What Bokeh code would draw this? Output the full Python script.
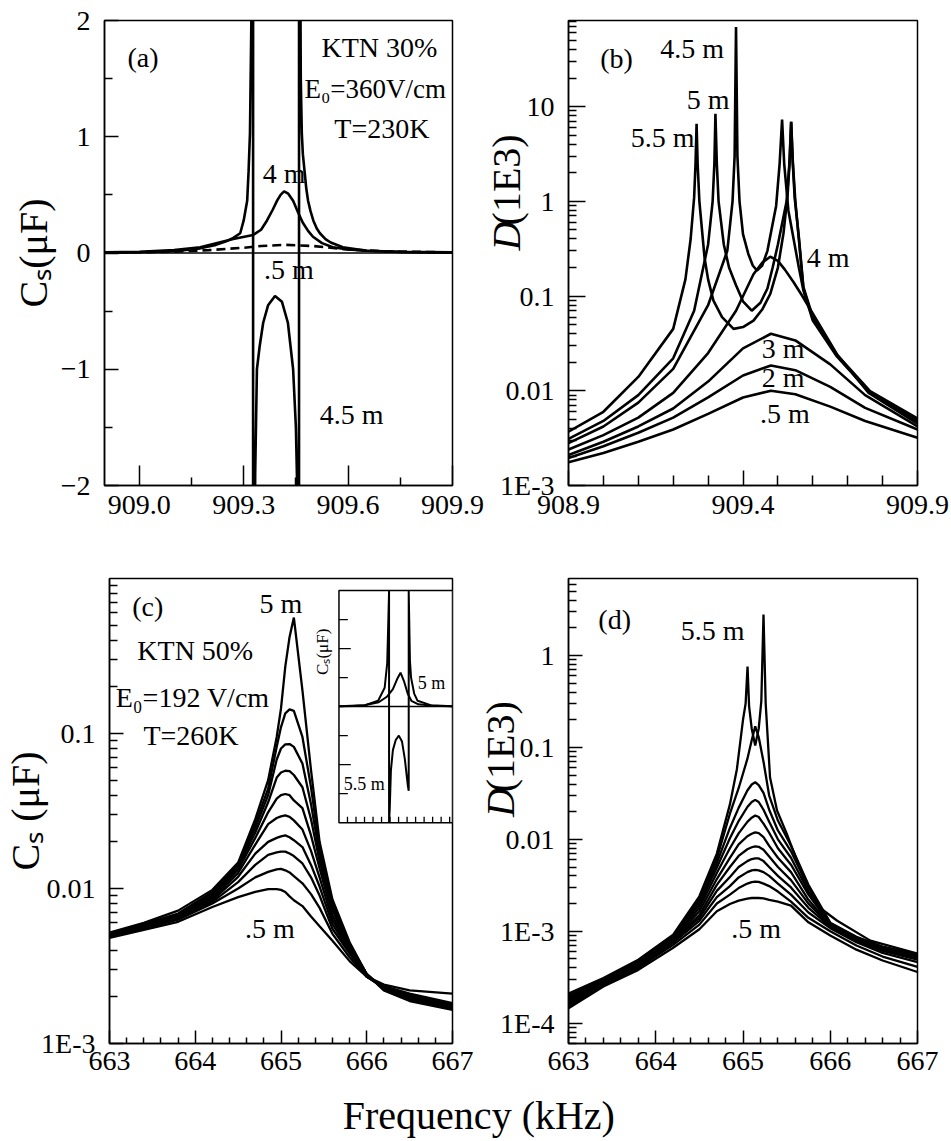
import math
from bokeh.plotting import figure
from bokeh.layouts import column, row
from bokeh.models import Range1d, FixedTicker, Label, Span, PrintfTickFormatter, LinearScale
from bokeh.embed import file_html
from bokeh.resources import INLINE
from bokeh.core.properties import value

FONT = "Liberation Serif"
LW = 2.6

# ---------------- panel (a): Cs (uF), KTN 30%, linear ----------------
A_X_45 = [908.90, 909.00, 909.10, 909.175, 909.22, 909.25, 909.27, 909.29, 909.30, 909.31,
          909.314, 909.318, 909.322, 909.327,
          909.327, 909.333, 909.338, 909.346, 909.356, 909.37, 909.39, 909.41, 909.427, 909.442,
          909.45, 909.455, 909.459,
          909.459, 909.464, 909.467, 909.47, 909.475, 909.48, 909.485, 909.492, 909.50, 909.51,
          909.519, 909.535, 909.55, 909.585, 909.654, 909.75, 909.90]
A_Y_45 = [0.003, 0.006, 0.015, 0.04, 0.07, 0.10, 0.13, 0.17, 0.28, 0.45,
          0.7, 1.03, 2.0, 5.0,
          -5.0, -1.9, -1.0, -0.8, -0.6, -0.45, -0.37, -0.42, -0.6, -1.0,
          -1.5, -2.2, -5.0,
          5.0, 1.5, 1.03, 0.85, 0.7, 0.55, 0.45, 0.36, 0.28, 0.21,
          0.17, 0.12, 0.09, 0.05, 0.02, 0.008, 0.003]
A_X_4 = [908.90, 909.00, 909.10, 909.175, 909.27, 909.327, 909.35, 909.367, 909.383, 909.396,
         909.406, 909.416, 909.428, 909.442, 909.456, 909.47, 909.485, 909.499, 909.525, 909.556,
         909.60, 909.654, 909.75, 909.90]
A_Y_4 = [0.005, 0.01, 0.025, 0.05, 0.12, 0.155, 0.2, 0.28, 0.37, 0.45,
         0.5, 0.53, 0.51, 0.45, 0.35, 0.26, 0.19, 0.14, 0.085, 0.05,
         0.03, 0.02, 0.01, 0.005]
A_X_05 = [908.90, 909.00, 909.10, 909.20, 909.30, 909.35, 909.42, 909.50, 909.55, 909.60, 909.70, 909.90]
A_Y_05 = [0.003, 0.006, 0.012, 0.025, 0.045, 0.06, 0.07, 0.06, 0.045, 0.03, 0.015, 0.005]
A_XTICKS = [909.0, 909.3, 909.6, 909.9]
A_XMINOR = [909.15, 909.45, 909.75]
A_YTICKS = [-2, -1, 0, 1, 2]
A_YMINOR = [-1.5, -0.5, 0.5, 1.5]

# ---------------- panel (b): D (1E3), KTN 30%, log ----------------
B_X_SMOOTH = [908.9, 909.0, 909.1, 909.2, 909.3, 909.4, 909.48, 909.55, 909.65, 909.75, 909.9]
B_Y_05 = [0.00176, 0.0022, 0.0029, 0.0039, 0.0057, 0.0085, 0.0100, 0.0092, 0.0068, 0.0048, 0.0032]
B_Y_2 = [0.00195, 0.0026, 0.0036, 0.0052, 0.0085, 0.0145, 0.0185, 0.0165, 0.011, 0.0066, 0.0039]
B_Y_3 = [0.0021, 0.0029, 0.0042, 0.0065, 0.0125, 0.028, 0.040, 0.034, 0.019, 0.0090, 0.0042]
B_X_4 = [908.9, 909.0, 909.1, 909.2, 909.3, 909.38, 909.43, 909.455, 909.478, 909.50, 909.52,
         909.545, 909.57, 909.67, 909.76, 909.9]
B_Y_4 = [0.0024, 0.0034, 0.0052, 0.0095, 0.025, 0.07, 0.17, 0.225, 0.26, 0.235, 0.19,
         0.14, 0.10, 0.024, 0.0095, 0.0045]
B_X_45 = [908.9, 909.0, 909.1, 909.2, 909.3, 909.355, 909.37, 909.376, 909.38, 909.384,
          909.39, 909.40, 909.415, 909.428, 909.44, 909.455, 909.47, 909.495, 909.505, 909.512,
          909.518, 909.53, 909.56, 909.573, 909.6, 909.669, 909.764, 909.9]
B_Y_45 = [0.0028, 0.0042, 0.0075, 0.017, 0.08, 0.3, 1.0, 3.0, 69, 3.0,
          1.0, 0.45, 0.28, 0.21, 0.186, 0.21, 0.3, 0.9, 2.5, 7.3,
          2.5, 0.8, 0.2, 0.115, 0.055, 0.023, 0.0095, 0.0047]
B_X_5 = [908.9, 909.0, 909.1, 909.2, 909.26, 909.30, 909.313, 909.318, 909.321, 909.325,
         909.33, 909.345, 909.36, 909.38, 909.40, 909.425, 909.45, 909.47, 909.485, 909.50,
         909.525, 909.533, 909.538, 909.543, 909.55, 909.56, 909.573, 909.6, 909.669, 909.764,
         909.9]
B_Y_5 = [0.0031, 0.0048, 0.009, 0.022, 0.07, 0.35, 1.0, 2.5, 8.4, 2.5,
         1.0, 0.35, 0.2, 0.13, 0.088, 0.07, 0.085, 0.12, 0.2, 0.35,
         1.0, 2.5, 6.9, 2.5, 1.0, 0.4, 0.12, 0.058, 0.0235, 0.0097,
         0.0049]
B_X_55 = [908.9, 909.0, 909.1, 909.2, 909.235, 909.25, 909.26, 909.264, 909.267, 909.27,
          909.275, 909.29, 909.30, 909.315, 909.34, 909.373, 909.40, 909.43, 909.455, 909.478,
          909.50, 909.516, 909.528, 909.534, 909.538, 909.542, 909.548, 909.56, 909.573, 909.6,
          909.669, 909.764, 909.9]
B_Y_55 = [0.0037, 0.006, 0.014, 0.045, 0.15, 0.4, 1.1, 2.5, 6.6, 2.5,
          1.0, 0.25, 0.15, 0.09, 0.06, 0.045, 0.047, 0.055, 0.072, 0.105,
          0.2, 0.46, 1.2, 2.8, 6.9, 2.8, 1.1, 0.42, 0.125, 0.06,
          0.024, 0.0099, 0.0051]
B_XTICKS = [908.9, 909.4, 909.9]
B_XMINOR = [909.0, 909.1, 909.2, 909.3, 909.5, 909.6, 909.7, 909.8]
B_YTICKS = [1e-3, 1e-2, 1e-1, 1.0, 10.0]

# ---------------- panel (c): Cs (uF), KTN 50%, log ----------------
C_X = [663.0, 663.4, 663.8, 664.2, 664.5, 664.7, 664.85, 664.95, 665.0, 665.05, 665.1,
       665.15, 665.25, 665.35, 665.45, 665.6, 665.8, 666.0, 666.2, 666.5, 667.0]
C_05 = [0.0048, 0.0054, 0.0061, 0.0076, 0.0088, 0.0095, 0.0099, 0.0099, 0.0098, 0.0095, 0.0089,
        0.0084, 0.0077, 0.0066, 0.0057, 0.0046, 0.0034, 0.0027, 0.0024, 0.0022, 0.0021]
C_10 = [0.00485, 0.0055, 0.0063, 0.0080, 0.0100, 0.0118, 0.0128, 0.0133, 0.0134, 0.0131, 0.0127,
        0.0120, 0.0108, 0.0092, 0.0075, 0.0051, 0.0036, 0.0027, 0.00235, 0.0021, 0.00182]
C_15 = [0.0049, 0.0056, 0.0064, 0.0082, 0.0110, 0.0142, 0.0165, 0.0171, 0.0173, 0.0173, 0.0168,
        0.0162, 0.0145, 0.0118, 0.0090, 0.0055, 0.0038, 0.0027, 0.0023, 0.00205, 0.00178]
C_20 = [0.0049, 0.0056, 0.0065, 0.0084, 0.0119, 0.0168, 0.0200, 0.0212, 0.0217, 0.0220, 0.0214,
        0.0205, 0.0185, 0.0142, 0.0103, 0.0059, 0.0039, 0.0027, 0.0023, 0.0020, 0.00175]
C_25 = [0.0050, 0.0057, 0.0065, 0.0086, 0.0126, 0.0192, 0.0260, 0.0285, 0.0292, 0.0296, 0.0290,
        0.0275, 0.0240, 0.0175, 0.0118, 0.0063, 0.0040, 0.0027, 0.0023, 0.00198, 0.00173]
C_30 = [0.0050, 0.0057, 0.0066, 0.0088, 0.0132, 0.0212, 0.0310, 0.0380, 0.0400, 0.0407, 0.0400,
        0.0370, 0.0330, 0.0220, 0.0135, 0.0067, 0.0041, 0.0027, 0.00228, 0.00196, 0.0017]
C_35 = [0.0050, 0.0058, 0.0067, 0.0090, 0.0137, 0.0230, 0.0360, 0.0520, 0.0560, 0.0575, 0.0572,
        0.0540, 0.0450, 0.0280, 0.0150, 0.0072, 0.0042, 0.0028, 0.00226, 0.00194, 0.00169]
C_40 = [0.0051, 0.0058, 0.0068, 0.0093, 0.0141, 0.0246, 0.0400, 0.0680, 0.0800, 0.0850, 0.0855,
        0.0820, 0.0640, 0.0350, 0.0165, 0.0076, 0.0043, 0.0028, 0.00224, 0.00192, 0.00168]
C_45 = [0.0051, 0.0059, 0.0069, 0.0095, 0.0144, 0.0262, 0.0440, 0.0820, 0.1100, 0.1350, 0.1430,
        0.1400, 0.0950, 0.0450, 0.0180, 0.0080, 0.0044, 0.0028, 0.00222, 0.0019, 0.00167]
C_50 = [0.0052, 0.0060, 0.0072, 0.0098, 0.0147, 0.0280, 0.0500, 0.0950, 0.1450, 0.2700, 0.4200,
        0.5600, 0.1900, 0.0580, 0.0200, 0.0085, 0.0045, 0.0028, 0.0022, 0.00188, 0.00165]
C_SERIES = [C_05, C_10, C_15, C_20, C_25, C_30, C_35, C_40, C_45, C_50]
CD_XTICKS = [663, 664, 665, 666, 667]
CD_XMINOR = [663.2, 663.4, 663.6, 663.8, 664.2, 664.4, 664.6, 664.8, 665.2, 665.4, 665.6, 665.8,
             666.2, 666.4, 666.6, 666.8]
C_YTICKS = [1e-3, 1e-2, 1e-1]

# inset of (c): Cs on a linear scale
INS_X_RANGE = (663.0, 667.0)
INS_Y_RANGE = (-4.0, 4.0)
INS_X_5 = [663.0, 663.9, 664.4, 664.7, 664.9, 665.05, 665.17, 665.3, 665.42, 665.55, 665.8, 666.3, 667.0]
INS_Y_5 = [0.01, 0.05, 0.15, 0.35, 0.6, 0.95, 1.17, 0.85, 0.45, 0.2, 0.08, 0.03, 0.01]
INS_X_55 = [663.0, 663.5, 663.92, 664.38, 664.61, 664.7, 664.74, 664.765, 664.765, 664.79,
            664.83, 664.9, 665.0, 665.11, 665.22, 665.32, 665.4, 665.43, 665.457, 665.457,
            665.5, 665.54, 665.65, 665.77, 666.23, 667.0]
INS_Y_55 = [0.01, 0.02, 0.05, 0.2, 0.65, 1.5, 3.0, 4.0, -4.0, -3.5,
            -2.2, -1.5, -1.15, -1.0, -1.2, -1.8, -2.5, -2.75, -2.9, 4.0,
            1.6, 1.0, 0.45, 0.2, 0.05, 0.01]
INS_YTICKS = [-3, -2, -1, 1, 2, 3]
INS_XTICKS = [663.3, 663.6, 663.9, 664.2, 664.5, 664.8, 665.1, 665.4, 665.7, 666.0, 666.3, 666.6, 666.9]

# ---------------- panel (d): D (1E3), KTN 50%, log ----------------
D_X = [663.0, 663.4, 663.8, 664.2, 664.5, 664.7, 664.85, 664.95, 665.05, 665.1, 665.14,
       665.18, 665.235, 665.3, 665.4, 665.55, 665.75, 666.0, 666.3, 666.6, 667.0]
D_05 = [1.45e-4, 2.5e-4, 3.8e-4, 6.6e-4, 1.05e-3, 1.65e-3, 1.98e-3, 2.15e-3, 2.27e-3, 2.3e-3, 2.31e-3,
        2.3e-3, 2.28e-3, 2.2e-3, 2.1e-3, 1.9e-3, 1.25e-3, 9.0e-4, 6.3e-4, 4.8e-4, 3.6e-4]
D_10 = [1.5e-4, 2.6e-4, 4.0e-4, 7.1e-4, 1.18e-3, 2.0e-3, 2.5e-3, 2.95e-3, 3.3e-3, 3.42e-3, 3.47e-3,
        3.45e-3, 3.3e-3, 3.1e-3, 2.7e-3, 2.1e-3, 1.4e-3, 1.0e-3, 7.0e-4, 5.3e-4, 4.1e-4]
D_15 = [1.55e-4, 2.65e-4, 4.1e-4, 7.5e-4, 1.3e-3, 2.35e-3, 3.1e-3, 3.85e-3, 4.4e-3, 4.6e-3, 4.66e-3,
        4.6e-3, 4.4e-3, 4.0e-3, 3.3e-3, 2.5e-3, 1.6e-3, 1.08e-3, 7.6e-4, 5.8e-4, 4.6e-4]
D_20 = [1.6e-4, 2.7e-4, 4.2e-4, 7.8e-4, 1.4e-3, 2.75e-3, 3.9e-3, 5.0e-3, 5.8e-3, 6.1e-3, 6.22e-3,
        6.2e-3, 5.8e-3, 5.0e-3, 4.0e-3, 3.0e-3, 1.8e-3, 1.12e-3, 7.9e-4, 6.1e-4, 4.9e-4]
D_25 = [1.65e-4, 2.75e-4, 4.3e-4, 8.0e-4, 1.5e-3, 3.2e-3, 5.0e-3, 6.6e-3, 7.8e-3, 8.2e-3, 8.4e-3,
        8.3e-3, 7.7e-3, 6.5e-3, 5.0e-3, 3.6e-3, 2.0e-3, 1.15e-3, 8.1e-4, 6.3e-4, 5.1e-4]
D_30 = [1.7e-4, 2.8e-4, 4.4e-4, 8.2e-4, 1.65e-3, 3.7e-3, 6.3e-3, 8.8e-3, 1.08e-2, 1.15e-2, 1.19e-2,
        1.17e-2, 1.06e-2, 8.5e-3, 6.3e-3, 4.4e-3, 2.2e-3, 1.17e-3, 8.3e-4, 6.4e-4, 5.2e-4]
D_35 = [1.75e-4, 2.85e-4, 4.5e-4, 8.4e-4, 1.8e-3, 4.3e-3, 8.0e-3, 1.16e-2, 1.55e-2, 1.72e-2, 1.82e-2,
        1.75e-2, 1.48e-2, 1.18e-2, 8.0e-3, 5.3e-3, 2.5e-3, 1.19e-3, 8.4e-4, 6.5e-4, 5.3e-4]
D_40 = [1.82e-4, 2.9e-4, 4.6e-4, 8.6e-4, 1.95e-3, 4.9e-3, 1.03e-2, 1.58e-2, 2.25e-2, 2.55e-2, 2.69e-2,
        2.55e-2, 2.1e-2, 1.55e-2, 1.0e-2, 6.3e-3, 2.7e-3, 1.2e-3, 8.5e-4, 6.6e-4, 5.4e-4]
D_45 = [1.9e-4, 2.95e-4, 4.7e-4, 8.8e-4, 2.1e-3, 5.5e-3, 1.33e-2, 2.2e-2, 3.4e-2, 3.95e-2, 4.18e-2,
        3.9e-2, 3.2e-2, 2.1e-2, 1.25e-2, 7.4e-3, 3.0e-3, 1.22e-3, 8.6e-4, 6.7e-4, 5.5e-4]
D_50 = [2.0e-4, 3.0e-4, 4.8e-4, 9.0e-4, 2.25e-3, 6.2e-3, 1.9e-2, 3.6e-2, 7.5e-2, 1.2e-1, 1.7e-1,
        1.3e-1, 7.0e-2, 3.0e-2, 1.6e-2, 8.5e-3, 3.2e-3, 1.24e-3, 8.7e-4, 6.8e-4, 5.6e-4]
D_SERIES = [D_05, D_10, D_15, D_20, D_25, D_30, D_35, D_40, D_45, D_50]
D_X_55 = [663.0, 663.4, 663.8, 664.2, 664.5, 664.7, 664.85, 664.93, 665.0, 665.03, 665.052,
          665.07, 665.1, 665.14, 665.18, 665.21, 665.235, 665.26, 665.31, 665.39, 665.5, 665.69,
          665.88, 666.08, 666.46, 667.0]
D_Y_55 = [2.1e-4, 3.1e-4, 4.9e-4, 9.2e-4, 2.4e-3, 7.0e-3, 2.4e-2, 5.8e-2, 2.0e-1, 3.0e-1, 7.6e-1,
          2.8e-1, 1.6e-1, 1.05e-1, 1.6e-1, 3.2e-1, 2.79, 3.0e-1, 4.7e-2, 2.06e-2, 1.16e-2, 3.9e-3,
          1.8e-3, 1.3e-3, 7.9e-4, 5.7e-4]
D_YTICKS = [1e-4, 1e-3, 1e-2, 1e-1, 1.0]

for xs, ys in [(A_X_45, A_Y_45), (A_X_4, A_Y_4), (A_X_05, A_Y_05), (B_X_4, B_Y_4),
               (B_X_45, B_Y_45), (B_X_5, B_Y_5), (B_X_55, B_Y_55), (INS_X_5, INS_Y_5),
               (INS_X_55, INS_Y_55), (D_X_55, D_Y_55)]:
    assert len(xs) == len(ys), (len(xs), len(ys))
for ys in [B_Y_05, B_Y_2, B_Y_3]:
    assert len(ys) == len(B_X_SMOOTH)
for ys in C_SERIES:
    assert len(ys) == len(C_X), len(ys)
for ys in D_SERIES:
    assert len(ys) == len(D_X), len(ys)

LOG_LABELS = {1e-4: "1E-4", 1e-3: "1E-3", 1e-2: "0.01", 1e-1: "0.1", 1.0: "1", 10.0: "10"}


def log_minor(lo, hi):
    out = []
    for e in range(-6, 3):
        for m in range(2, 10):
            v = m * 10.0 ** e
            if lo <= v <= hi:
                out.append(v)
    return out


def make_panel(width, height, borders, xr, yr, ylog, xticks, xminor, yticks, yminor, xlen, ylen):
    left, right, top, bottom = borders
    p = figure(width=width, height=height, x_range=Range1d(*xr), y_range=Range1d(*yr),
               y_axis_type="log" if ylog else "linear",
               output_backend="svg", toolbar_location=None,
               min_border_left=left, min_border_right=right,
               min_border_top=top, min_border_bottom=bottom)
    p.xgrid.visible = False
    p.ygrid.visible = False
    p.outline_line_color = "black"
    p.outline_line_width = 1.5
    p.outline_line_alpha = 1.0
    p.background_fill_color = "white"
    p.border_fill_color = "white"
    xa, ya = p.xaxis[0], p.yaxis[0]
    xa.ticker = FixedTicker(ticks=xticks, minor_ticks=xminor)
    ya.ticker = FixedTicker(ticks=yticks, minor_ticks=yminor)
    for ax, (maj, mnr) in ((xa, xlen), (ya, ylen)):
        ax.axis_line_color = "black"
        ax.axis_line_width = 1.5
        ax.major_tick_in = maj
        ax.major_tick_out = 0
        ax.minor_tick_in = mnr
        ax.minor_tick_out = 0
        ax.major_tick_line_width = 1.5
        ax.minor_tick_line_width = 1.5
        ax.major_tick_line_color = "black"
        ax.minor_tick_line_color = "black"
        ax.major_label_text_font = FONT
        ax.major_label_text_font_size = "28px"
        ax.major_label_text_color = "black"
        ax.axis_label_text_font = FONT
        ax.axis_label_text_font_size = "40px"
        ax.axis_label_text_font_style = "normal"
        ax.axis_label_text_color = "black"
    xa.major_label_standoff = 10
    ya.major_label_standoff = 14
    if ylog:
        ya.major_label_overrides = {t: LOG_LABELS[t] for t in yticks}
    return p


def txt(p, x, y, s, size=28, align="center", angle=0.0, italic=False, xr="default", yr="default"):
    p.add_layout(Label(x=x, y=y, text=s, text_font=FONT, text_font_size=f"{size}px",
                       text_font_style="italic" if italic else "normal", text_color="black",
                       text_align=align, text_baseline="middle", angle=angle,
                       x_range_name=xr, y_range_name=yr))


def curve(p, xs, ys, **kw):
    p.line(xs, ys, line_color="black", line_width=kw.pop("lw", LW), **kw)


def title_strip(width, height, parts):
    """transparent narrow figure carrying a rotated y title; it slides under the next panel's left border"""
    s = figure(width=width, height=height, x_range=Range1d(0, width), y_range=Range1d(0, height),
               output_backend="svg", toolbar_location=None, x_axis_location=None,
               y_axis_location=None, min_border=0)
    s.xgrid.visible = False
    s.ygrid.visible = False
    s.outline_line_color = None
    s.background_fill_alpha = 0.0
    s.border_fill_alpha = 0.0
    for (xc, ytop, text, italic) in parts:
        s.text(x=[xc], y=[height - ytop], text=[text], angle=math.pi / 2, text_align="left",
               text_baseline="middle", text_font=value(FONT), text_font_size="40px",
               text_font_style="italic" if italic else "normal", text_color="black")
    return s


STRIP_W = 56

# ----- (a)
pa = make_panel(487, 540, (104, 35, 20, 55), (908.9, 909.9), (-2, 2), False,
                A_XTICKS, A_XMINOR, A_YTICKS, A_YMINOR, (20, 8), (14, 8))
pa.xaxis[0].formatter = PrintfTickFormatter(format="%.1f")
pa.yaxis[0].axis_label = "Cₛ(μF)"
pa.yaxis[0].axis_label_standoff = 2
pa.add_layout(Span(location=0, dimension="width", line_color="black", line_width=1.3))
curve(pa, A_X_45, A_Y_45)
curve(pa, A_X_4, A_Y_4)
curve(pa, A_X_05, A_Y_05, line_dash="9 5")
txt(pa, 908.966, 1.68, "(a)", align="left")
txt(pa, 909.69, 1.77, "KTN 30%")
txt(pa, 909.678, 1.41, "E₀=360V/cm", size=27)
txt(pa, 909.697, 1.07, "T=230K")
txt(pa, 909.416, 0.68, "4 m")
txt(pa, 909.43, -0.146, ".5 m")
txt(pa, 909.61, -1.39, "4.5 m")

# title strip for (b): starts 9 px inside pa's right border, pb slides over it
tb = title_strip(STRIP_W, 540, [(28, 267, "D", True), (28, 238, "(1E3)", False)])
tb.margin = (0, 0, 0, -9)

# ----- (b)
pb = make_panel(464, 540, (81, 34, 20, 55), (908.9, 909.9), (1e-3, 81), True,
                B_XTICKS, B_XMINOR, B_YTICKS, log_minor(1e-3, 81), (15, 10), (17, 8))
pb.xaxis[0].formatter = PrintfTickFormatter(format="%.1f")
pb.border_fill_alpha = 0.0
pb.margin = (0, 0, 0, -(STRIP_W - 9))
for ys in (B_Y_05, B_Y_2, B_Y_3):
    curve(pb, B_X_SMOOTH, ys)
curve(pb, B_X_4, B_Y_4)
curve(pb, B_X_45, B_Y_45)
curve(pb, B_X_5, B_Y_5)
curve(pb, B_X_55, B_Y_55)
txt(pb, 908.991, 32.3, "(b)", align="left")
txt(pb, 909.254, 41, "4.5 m")
txt(pb, 909.30, 11.9, "5 m")
txt(pb, 909.17, 4.73, "5.5 m")
txt(pb, 909.644, 0.256, "4 m")
txt(pb, 909.515, 0.0279, "3 m")
txt(pb, 909.515, 0.0138, "2 m")
txt(pb, 909.52, 0.00575, ".5 m")

# ----- (c)
pc = make_panel(480, 546, (104, 28, 38, 43), (663, 667), (1e-3, 1.0), True,
                CD_XTICKS, CD_XMINOR, C_YTICKS, log_minor(1e-3, 1.0), (13, 6), (14, 8))
pc.xaxis[0].major_label_standoff = 8
pc.yaxis[0].axis_label = "Cₛ (μF)"
pc.yaxis[0].axis_label_standoff = -10
for ys in C_SERIES:
    curve(pc, C_X, ys, lw=2.3)
txt(pc, 663.264, 0.66, "(c)", align="left")
txt(pc, 665.0, 0.69, "5 m")
txt(pc, 664.0, 0.343, "KTN 50%")
txt(pc, 663.97, 0.171, "E₀=192 V/cm")
txt(pc, 663.95, 0.097, "T=260K")
txt(pc, 664.87, 0.00553, ".5 m")

# inset placement inside the (c) frame (fractions of the frame)
INS_LEFT_FRAC = 0.669
INS_TOP_FRAC = 0.026
INS_BOT_FRAC = 0.525
ix_span = (INS_X_RANGE[1] - INS_X_RANGE[0]) / (1.0 - INS_LEFT_FRAC)
ix0 = INS_X_RANGE[0] - INS_LEFT_FRAC * ix_span
iy_span = (INS_Y_RANGE[1] - INS_Y_RANGE[0]) / (INS_BOT_FRAC - INS_TOP_FRAC)
iy1 = INS_Y_RANGE[1] + INS_TOP_FRAC * iy_span
iy0 = iy1 - iy_span
pc.extra_x_ranges = {"ix": Range1d(ix0, INS_X_RANGE[1])}
pc.extra_y_ranges = {"iy": Range1d(iy0, iy1)}
pc.extra_x_scales = {"ix": LinearScale()}
pc.extra_y_scales = {"iy": LinearScale()}
px_per_ix = 348.0 / ix_span
px_per_iy = 465.0 / iy_span
R = dict(x_range_name="ix", y_range_name="iy")
pc.quad(left=[INS_X_RANGE[0]], right=[INS_X_RANGE[1]], bottom=[INS_Y_RANGE[0]], top=[INS_Y_RANGE[1]],
        fill_color="white", line_color="black", line_width=1.5, **R)
pc.segment(x0=[INS_X_RANGE[0]], y0=[0], x1=[INS_X_RANGE[1]], y1=[0], line_color="black", line_width=1.5, **R)
pc.segment(x0=[INS_X_RANGE[0]] * len(INS_YTICKS), y0=INS_YTICKS,
           x1=[INS_X_RANGE[0] + (12 if abs(t) == 2 else 9) / px_per_ix for t in INS_YTICKS], y1=INS_YTICKS,
           line_color="black", line_width=1.3, **R)
pc.segment(x0=INS_XTICKS, y0=[INS_Y_RANGE[0]] * len(INS_XTICKS),
           x1=INS_XTICKS, y1=[INS_Y_RANGE[0] + 6 / px_per_iy] * len(INS_XTICKS),
           line_color="black", line_width=1.3, **R)
pc.line(INS_X_5, INS_Y_5, line_color="black", line_width=2.0, **R)
pc.line(INS_X_55, INS_Y_55, line_color="black", line_width=2.0, **R)
txt(pc, 662.42, 1.89, "Cₛ(μF)", size=17, angle=math.pi / 2, xr="ix", yr="iy")
txt(pc, 666.26, 0.8, "5 m", size=18, xr="ix", yr="iy")
txt(pc, 663.17, -2.66, "5.5 m", size=18, align="left", xr="ix", yr="iy")

# title strip for (d): starts 10 px inside pc's right border
td = title_strip(STRIP_W, 546, [(30, 280, "D", True), (30, 251, "(1E3)", False)])
td.margin = (0, 0, 0, -10)

# ----- (d)
pd = make_panel(471, 546, (88, 34, 38, 43), (663, 667), (6.0e-5, 6.9), True,
                CD_XTICKS, CD_XMINOR, D_YTICKS, log_minor(6.0e-5, 6.9), (13, 6), (14, 8))
pd.xaxis[0].major_label_standoff = 8
pd.border_fill_alpha = 0.0
pd.margin = (0, 0, 0, -(STRIP_W - 10))
for ys in D_SERIES:
    curve(pd, D_X, ys, lw=2.3)
curve(pd, D_X_55, D_Y_55, lw=2.3)
txt(pd, 663.342, 2.47, "(d)", align="left")
txt(pd, 664.653, 1.87, "5.5 m")
txt(pd, 665.151, 1.07e-3, ".5 m")

# ----- common x label
pl = figure(width=951, height=55, x_range=Range1d(0, 1), y_range=Range1d(0, 1),
            output_backend="svg", toolbar_location=None, x_axis_location=None, y_axis_location=None,
            min_border=0)
pl.xgrid.visible = False
pl.ygrid.visible = False
pl.outline_line_color = None
pl.text(x=[0.503], y=[0.47], text=["Frequency (kHz)"], text_font=value(FONT), text_font_size="40px",
        text_align="center", text_baseline="middle", text_color="black")

layout = column(row(pa, tb, pb), row(pc, td, pd), pl)
open("out.html", "w").write(file_html(layout, INLINE, "KTN"))
